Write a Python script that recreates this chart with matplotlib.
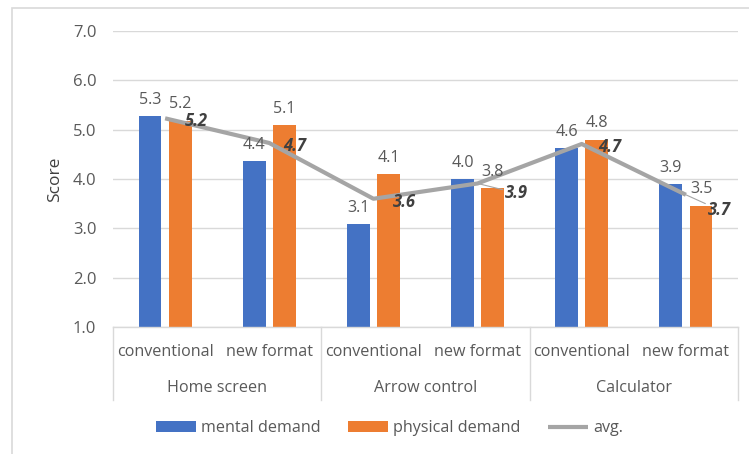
import matplotlib.pyplot as plt
from matplotlib.patches import Rectangle
from matplotlib.transforms import blended_transform_factory

plt.rcParams['font.family'] = ['Open Sans', 'DejaVu Sans']

groups = ["Home screen", "Arrow control", "Calculator"]
formats = ["conventional", "new format"] * 3
mental = [5.27, 4.36, 3.09, 4.00, 4.62, 3.90]
physical = [5.18, 5.09, 4.10, 3.82, 4.80, 3.46]
avg = [5.23, 4.73, 3.60, 3.91, 4.71, 3.68]

blue = "#4472C4"
orange = "#ED7D31"
gray = "#A5A5A5"
txt = "#595959"
grid = "#D9D9D9"
fs = 11.6

fig = plt.figure(figsize=(7.49, 4.54), dpi=100)
ax = fig.add_axes([0.1509, 0.2797, 0.8344, 0.652])

x = list(range(len(formats)))
w = 0.22
off = 0.145
b1 = ax.bar([i - off for i in x], mental, w, color=blue, label="mental demand", zorder=2)
b2 = ax.bar([i + off for i in x], physical, w, color=orange, label="physical demand", zorder=2)
ln, = ax.plot(x, avg, color=gray, lw=3, label="avg.", zorder=3, solid_capstyle="butt")

for i, v in enumerate(mental):
    ax.annotate(f"{v:.1f}", (i - off, v), xytext=(0, 6), textcoords="offset points",
                ha="center", va="bottom", fontsize=fs, color=txt)
for i, v in enumerate(physical):
    ax.annotate(f"{v:.1f}", (i + off, v), xytext=(0, 6), textcoords="offset points",
                ha="center", va="bottom", fontsize=fs, color=txt)

# avg labels, two of them pushed down with a leader line like excel does
lab_off = [(14, -2), (10, -2), (14, -2), (20, -7), (12, -2), (16, -11)]
for i, v in enumerate(avg):
    dx, dy = lab_off[i]
    leader = dict(arrowstyle="-", color=gray, lw=0.8, shrinkA=0, shrinkB=0) if dy < -5 else None
    ax.annotate(f"{v:.1f}", (i, v), xytext=(dx, dy), textcoords="offset points",
                ha="left", va="center", fontsize=12, color="#404040",
                fontweight="bold", fontstyle="italic", arrowprops=leader)

ax.set_xlim(-0.5, len(formats) - 0.5)
ax.set_ylim(1, 7)
ax.set_yticks([1, 2, 3, 4, 5, 6, 7])
ax.set_yticklabels([f"{t:.1f}" for t in [1, 2, 3, 4, 5, 6, 7]])
ax.tick_params(axis="y", length=0, pad=12, labelsize=12, labelcolor=txt)
ax.tick_params(axis="x", length=0, labelbottom=False)
ax.grid(axis="y", color=grid, lw=1, zorder=0)
ax.set_axisbelow(True)
for s in ["top", "right", "left"]:
    ax.spines[s].set_visible(False)
ax.spines["bottom"].set_color(grid)
ax.spines["bottom"].set_linewidth(1)
ax.set_ylabel("Score", fontsize=12.5, color="#404040", labelpad=7)

# two-level category axis
tr = blended_transform_factory(ax.transData, ax.transAxes)
for i, f in enumerate(formats):
    ax.text(i, -0.085, f, transform=tr, ha="center", va="center", fontsize=fs, color=txt)
for g, name in enumerate(groups):
    ax.text(2 * g + 0.5, -0.207, name, transform=tr, ha="center", va="center", fontsize=fs, color=txt)
for sx in [-0.5, 1.5, 3.5, 5.5]:
    ax.plot([sx, sx], [0, -0.247], transform=tr, color=grid, lw=1, clip_on=False)

fig.legend(handles=[b1, b2, ln], loc="center", bbox_to_anchor=(0.52, 0.057), ncol=3,
           frameon=False, fontsize=fs, labelcolor=txt, handlelength=2.5, handleheight=0.6,
           handletextpad=0.3, columnspacing=1.7)

fig.patches.append(Rectangle((0.016, -0.1), 1.2, 1.082, transform=fig.transFigure,
                             fill=False, edgecolor=grid, lw=1.2))

fig.savefig("out.png", dpi=100)
